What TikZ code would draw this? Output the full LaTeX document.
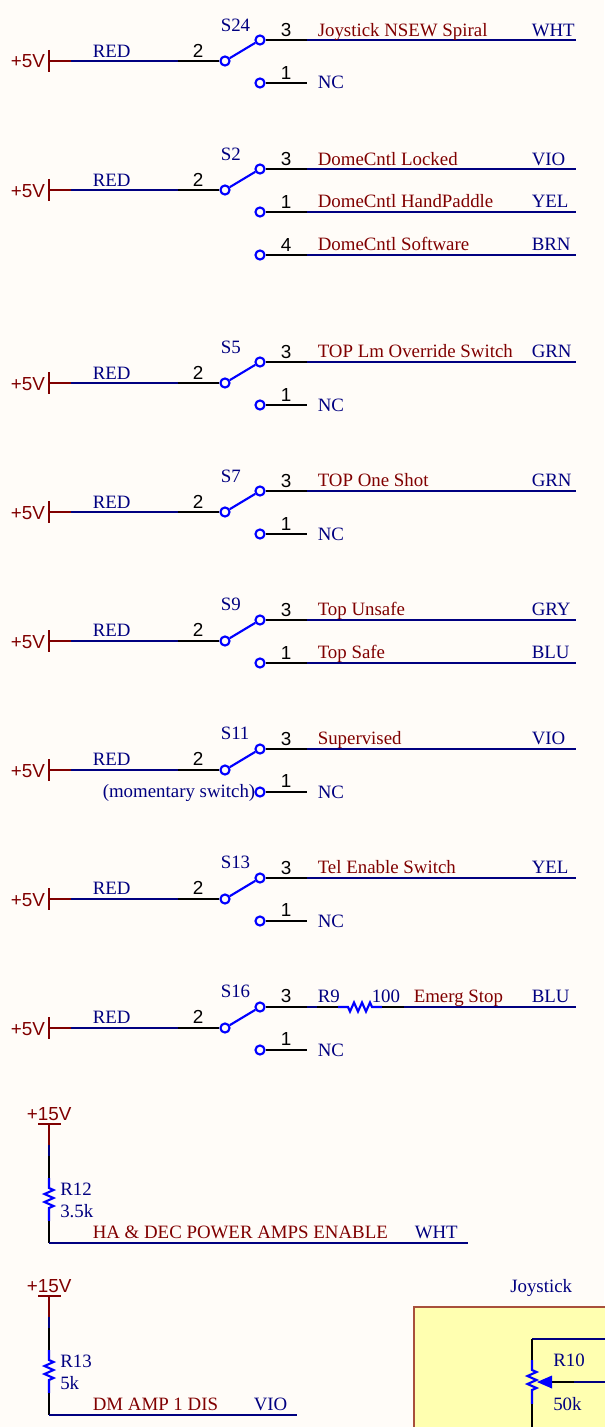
\documentclass[tikz,border=0pt]{standalone}
\usepackage{fontspec}
\setmainfont{Liberation Serif}
\newfontfamily\pinfont{Liberation Sans}
\usetikzlibrary{arrows.meta}
\definecolor{bgc}{HTML}{FFFCF8}
\definecolor{wireblue}{HTML}{000080}
\definecolor{pinblue}{HTML}{0000FF}
\definecolor{pwrred}{HTML}{800000}
\definecolor{boxfill}{HTML}{FFFFB0}
\definecolor{boxline}{HTML}{A8503C}
\newcommand{\lbdrift}{0.0015}
\tikzset{
  wire/.style={draw=wireblue,line width=1.5pt},
  pinw/.style={draw=black,line width=1.5pt},
  pwr/.style={draw=pwrred,line width=1.5pt},
  sym/.style={draw=pinblue,line width=1.6pt},
  contact/.style={circle,draw=pinblue,line width=1.6pt,minimum size=6.8pt,inner sep=0pt,fill=none},
  lblue/.style={anchor=base west,inner sep=0pt,text=wireblue,font=\fontsize{14.15pt}{16pt}\selectfont},
  lred/.style={anchor=base west,inner sep=0pt,text=pwrred,font=\fontsize{14.15pt}{16pt}\selectfont},
  lpin/.style={anchor=base,inner sep=0pt,text=black,font=\pinfont\fontsize{14.15pt}{16pt}\selectfont},
  lpwr/.style={anchor=base west,inner sep=0pt,text=pwrred,font=\pinfont\fontsize{14.15pt}{16pt}\selectfont},
}
\newcommand{\swrow}[3]{%
  \coordinate (#1p) at (49,#2);
  \coordinate (#1a) at (71,#2);
  \coordinate (#1b) at (178,#2);
  \draw[pwr] (49,#2-11) -- (49,#2+11);
  \draw[pwr] (#1p) -- (#1a);
  \draw[wire] (#1a) -- (#1b);
  \node[contact] (#1c) at (225,#2) {};
  \node[contact] (#1t) at (260,#2-21) {};
  \node[contact] (#1d) at (260,#2+22) {};
  \draw[pinw] (#1b) -- (#1c);
  \draw[sym] (#1c) -- (#1t);
  \node[lpwr] (#1v) at (10.5,#2+7) {+5V};
  \node[lblue] (#1r) at (92.5,{#2-4.6+(1007-#2)*0.0015}) {RED};
  \node[lpin] (#1two) at (198,{#2-4.6+(1007-#2)*0.0015}) {2};
  \node[lblue] (#1n) at (220.5,{#2-30.6+(1007-#2)*0.0015}) {#3};
}
\newcommand{\swout}[5]{%
  \coordinate (#1x) at (307,#2);
  \coordinate (#1e) at (576,#2);
  \draw[pinw] (#1) -- (#1x);
  \draw[wire] (#1x) -- (#1e);
  \node[lpin] (#1pn) at (286,{#2-4+(1007-#2)*0.001}) {#3};
  \node[lred] (#1nt) at (317.5,{#2-5+(1007-#2)*\lbdrift}) {#4};
  \node[lblue] (#1cl) at (531.5,{#2-5+(1007-#2)*\lbdrift}) {#5};
}
\newcommand{\swnc}[2]{%
  \coordinate (#1x) at (307,#2);
  \draw[pinw] (#1) -- (#1x);
  \node[lpin] (#1pn) at (286,{#2-4.5+(1050-#2)*0.001}) {1};
  \node[lblue] (#1nt) at (317.5,#2+6) {NC};
}
\newcommand{\pullup}[9]{%
  \coordinate (#1top) at (49,1124+#2);
  \coordinate (#1r) at (49,1145+#2);
  \coordinate (#1b) at (49,1156+#2);
  \coordinate (#1k) at (49,1178+#2);
  \coordinate (#1z) at (49,1188+#2);
  \coordinate (#1y) at (49,1212+#2);
  \coordinate (#1m) at (49,1221+#2);
  \coordinate (#1c) at (49,1243+#2);
  \coordinate (#1e) at (#9,1243+#2);
  \draw[pwr] (38,1124+#2) -- (61,1124+#2);
  \draw[pwr] (#1top) -- (#1r);
  \draw[wire] (#1r) -- (#1b);
  \draw[pinw] (#1b) -- (#1k);
  \draw[sym,line join=miter] (#1k) -- (#1z) -- ++(4.5,2) -- ++(-9,4) -- ++(9,4) -- ++(-9,4) -- ++(9,4) -- ++(-4.5,2) -- (#1y) -- (#1m);
  \draw[pinw] (#1m) -- (#1c);
  \draw[wire] (#1c) -- (#1e);
  \node[lpwr] (#1v) at (26.5,1120+#2) {+15V};
  \node[lblue] (#1n) at (60,1195+#2) {#3};
  \node[lblue] (#1u) at (60,1217+#2) {#4};
  \node[lred] (#1nt) at (#6,1238+#2) {#5};
  \node[lblue] (#1cl) at (#8,1238+#2) {#7};
}
\begin{document}
\begin{tikzpicture}[x=0.75pt,y=-0.75pt]
\useasboundingbox (0,0) rectangle (604,1427);
\fill[bgc] (0,0) rectangle (604,1427);

\swrow{a}{61}{S24}
\swout{at}{40}{3}{Joystick NSEW Spiral}{WHT}
\swnc{ad}{83}

\swrow{b}{190}{S2}
\swout{bt}{169}{3}{DomeCntl Locked}{VIO}
\renewcommand{\lbdrift}{0}
\swout{bd}{212}{1}{DomeCntl HandPaddle}{YEL}
\node[contact] (bf) at (260,255) {};
\swout{bf}{255}{4}{DomeCntl Software}{BRN}
\renewcommand{\lbdrift}{0.0015}

\swrow{c}{383}{S5}
\swout{ct}{362}{3}{TOP Lm Override Switch}{GRN}
\swnc{cd}{405}

\swrow{d}{512}{S7}
\swout{dt}{491}{3}{TOP One Shot}{GRN}
\swnc{dd}{534}

\swrow{e}{641}{S9}
\swout{et}{620}{3}{Top Unsafe}{GRY}
\swout{ed}{663}{1}{Top Safe}{BLU}

\swrow{f}{770}{S11}
\swout{ft}{749}{3}{Supervised}{VIO}
\swnc{fd}{792}
\node[lblue] (fm) at (102.5,797) {(momentary switch)};

\swrow{g}{899}{S13}
\swout{gt}{878}{3}{Tel Enable Switch}{YEL}
\swnc{gd}{921}

\swrow{h}{1028}{S16}
\swnc{hd}{1050}
\coordinate (h1) at (307,1007);
\coordinate (h2) at (317,1007);
\coordinate (h3) at (338,1007);
\coordinate (h4) at (348,1007);
\coordinate (h5) at (372,1007);
\coordinate (h6) at (382,1007);
\coordinate (h7) at (404,1007);
\coordinate (h8) at (576,1007);
\draw[pinw] (ht) -- (h1);
\draw[wire] (h1) -- (h2);
\draw[pinw] (h2) -- (h3);
\draw[sym,line join=miter] (h3) -- (h4) -- ++(2,4.5) -- ++(4,-9) -- ++(4,9) -- ++(4,-9) -- ++(4,9) -- ++(4,-9) -- (h5) -- (h6);
\draw[pinw] (h6) -- (h7);
\draw[wire] (h7) -- (h8);
\node[lpin] (hth) at (286,1002) {3};
\node[lblue] (hr) at (317.5,1002) {R9};
\node[lblue] (hv) at (371.5,1002) {100};
\node[lred] (hnt) at (413.5,1002) {Emerg Stop};
\node[lblue] (hcl) at (531.5,1002) {BLU};

\pullup{p}{0}{R12}{3.5k}{HA \& DEC POWER AMPS ENABLE}{92.5}{WHT}{414.5}{468}
\pullup{q}{172}{R13}{5k}{DM AMP 1 DIS}{92.5}{VIO}{253.5}{297}

% Joystick
\node[lblue] (js) at (510,1292) {Joystick};
\fill[boxfill] (414,1307) rectangle (610,1432);
\draw[boxline,line width=1pt] (414,1432) -- (414,1307) -- (610,1307);
\coordinate (rc) at (532,1339);
\coordinate (re) at (610,1339);
\coordinate (r1) at (532,1360);
\coordinate (r2) at (532,1370);
\coordinate (r3) at (532,1394);
\coordinate (r4) at (532,1404);
\coordinate (r5) at (532,1432);
\coordinate (w1) at (610,1382);
\coordinate (w2) at (574,1382);
\coordinate (w3) at (552,1382);
\coordinate (w4) at (537,1382);
\draw[wire] (rc) -- (re);
\draw[pinw] (rc) -- (r1);
\draw[sym,line join=miter] (r1) -- (r2) -- ++(4.5,2) -- ++(-9,4) -- ++(9,4) -- ++(-9,4) -- ++(9,4) -- ++(-4.5,2) -- (r3) -- (r4);
\draw[pinw] (r4) -- (r5);
\draw[wire] (w1) -- (w2);
\draw[pinw] (w2) -- (w3);
\fill[pinblue] (w4) -- (552,1375.5) -- (552,1388.5) -- cycle;
\node[lblue] (rn) at (553,1366) {R10};
\node[lblue] (rv) at (553,1410) {50k};
\end{tikzpicture}
\end{document}
